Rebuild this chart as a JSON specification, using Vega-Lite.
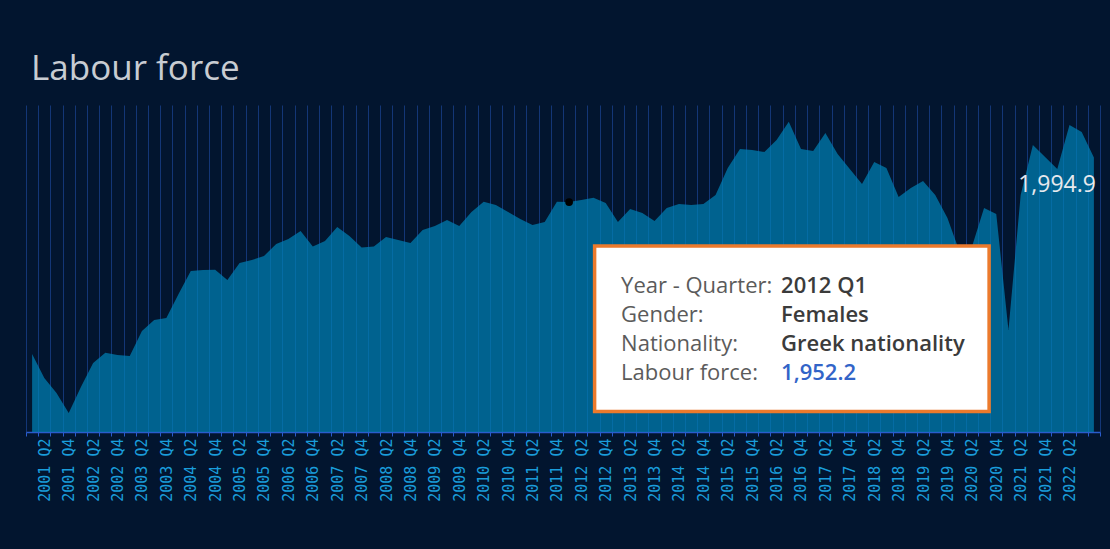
{
  "$schema": "https://vega.github.io/schema/vega-lite/v6.json",
  "width": 1074,
  "height": 327,
  "autosize": {"type": "none"},
  "padding": {"left": 26, "top": 105, "right": 10, "bottom": 117},
  "background": "#02152f",
  "title": {"text": "Labour force", "anchor": "start", "frame": "group", "dx": 5, "offset": 18, "fontSize": 35, "font": "Open Sans", "fontWeight": "normal", "color": "#c8ccd2"},
  "config": {"view": {"stroke": null}},
  "datasets": {
    "lf": [
      {"quarter": "2001 Q1", "value": 1806.3},
      {"quarter": "2001 Q2", "value": 1783.3},
      {"quarter": "2001 Q3", "value": 1768.9},
      {"quarter": "2001 Q4", "value": 1749.7},
      {"quarter": "2002 Q1", "value": 1774.7},
      {"quarter": "2002 Q2", "value": 1797.7},
      {"quarter": "2002 Q3", "value": 1807.6},
      {"quarter": "2002 Q4", "value": 1805.4},
      {"quarter": "2003 Q1", "value": 1804.4},
      {"quarter": "2003 Q2", "value": 1828.4},
      {"quarter": "2003 Q3", "value": 1839.0},
      {"quarter": "2003 Q4", "value": 1840.9},
      {"quarter": "2004 Q1", "value": 1863.9},
      {"quarter": "2004 Q2", "value": 1886.0},
      {"quarter": "2004 Q3", "value": 1886.9},
      {"quarter": "2004 Q4", "value": 1887.2},
      {"quarter": "2005 Q1", "value": 1877.3},
      {"quarter": "2005 Q2", "value": 1893.7},
      {"quarter": "2005 Q3", "value": 1896.5},
      {"quarter": "2005 Q4", "value": 1900.4},
      {"quarter": "2006 Q1", "value": 1911.9},
      {"quarter": "2006 Q2", "value": 1916.7},
      {"quarter": "2006 Q3", "value": 1924.4},
      {"quarter": "2006 Q4", "value": 1909.5},
      {"quarter": "2007 Q1", "value": 1914.8},
      {"quarter": "2007 Q2", "value": 1928.2},
      {"quarter": "2007 Q3", "value": 1919.6},
      {"quarter": "2007 Q4", "value": 1908.5},
      {"quarter": "2008 Q1", "value": 1909.5},
      {"quarter": "2008 Q2", "value": 1918.6},
      {"quarter": "2008 Q3", "value": 1915.7},
      {"quarter": "2008 Q4", "value": 1912.9},
      {"quarter": "2009 Q1", "value": 1925.3},
      {"quarter": "2009 Q2", "value": 1929.2},
      {"quarter": "2009 Q3", "value": 1934.9},
      {"quarter": "2009 Q4", "value": 1929.2},
      {"quarter": "2010 Q1", "value": 1942.6},
      {"quarter": "2010 Q2", "value": 1952.5},
      {"quarter": "2010 Q3", "value": 1949.3},
      {"quarter": "2010 Q4", "value": 1942.6},
      {"quarter": "2011 Q1", "value": 1935.9},
      {"quarter": "2011 Q2", "value": 1930.1},
      {"quarter": "2011 Q3", "value": 1933.0},
      {"quarter": "2011 Q4", "value": 1952.5},
      {"quarter": "2012 Q1", "value": 1952.2},
      {"quarter": "2012 Q2", "value": 1954.1},
      {"quarter": "2012 Q3", "value": 1956.3},
      {"quarter": "2012 Q4", "value": 1951.2},
      {"quarter": "2013 Q1", "value": 1933.0},
      {"quarter": "2013 Q2", "value": 1945.5},
      {"quarter": "2013 Q3", "value": 1941.6},
      {"quarter": "2013 Q4", "value": 1934.0},
      {"quarter": "2014 Q1", "value": 1946.4},
      {"quarter": "2014 Q2", "value": 1950.3},
      {"quarter": "2014 Q3", "value": 1949.3},
      {"quarter": "2014 Q4", "value": 1950.3},
      {"quarter": "2015 Q1", "value": 1958.9},
      {"quarter": "2015 Q2", "value": 1984.8},
      {"quarter": "2015 Q3", "value": 2003.1},
      {"quarter": "2015 Q4", "value": 2002.1},
      {"quarter": "2016 Q1", "value": 2000.2},
      {"quarter": "2016 Q2", "value": 2011.7},
      {"quarter": "2016 Q3", "value": 2029.3},
      {"quarter": "2016 Q4", "value": 2003.1},
      {"quarter": "2017 Q1", "value": 2001.1},
      {"quarter": "2017 Q2", "value": 2018.4},
      {"quarter": "2017 Q3", "value": 1998.3},
      {"quarter": "2017 Q4", "value": 1983.9},
      {"quarter": "2018 Q1", "value": 1969.5},
      {"quarter": "2018 Q2", "value": 1990.6},
      {"quarter": "2018 Q3", "value": 1984.8},
      {"quarter": "2018 Q4", "value": 1957.0},
      {"quarter": "2019 Q1", "value": 1965.6},
      {"quarter": "2019 Q2", "value": 1972.4},
      {"quarter": "2019 Q3", "value": 1958.9},
      {"quarter": "2019 Q4", "value": 1936.8},
      {"quarter": "2020 Q1", "value": 1904.2},
      {"quarter": "2020 Q2", "value": 1909.0},
      {"quarter": "2020 Q3", "value": 1946.4},
      {"quarter": "2020 Q4", "value": 1940.7},
      {"quarter": "2021 Q1", "value": 1829.4},
      {"quarter": "2021 Q2", "value": 1958.9},
      {"quarter": "2021 Q3", "value": 2006.9},
      {"quarter": "2021 Q4", "value": 1995.4},
      {"quarter": "2022 Q1", "value": 1983.9},
      {"quarter": "2022 Q2", "value": 2026.1},
      {"quarter": "2022 Q3", "value": 2019.4},
      {"quarter": "2022 Q4", "value": 1994.9}
    ],
    "hover": [
      {"quarter": "2012 Q1", "gender": "Females", "nationality": "Greek nationality", "value": 1952.2}
    ]
  },
  "data": {"name": "lf"},
  "encoding": {
    "x": {
      "field": "quarter", "type": "ordinal", "bandPosition": 0.5,
      "scale": {"type": "band", "paddingInner": 0, "paddingOuter": 0},
      "axis": {
        "title": null, "tickBand": "extent", "grid": true, "gridColor": "#2c63d8", "gridOpacity": 0.42, "gridWidth": 1,
        "domainColor": "#2a5ccc", "domainWidth": 1.5, "tickColor": "#2a5ccc", "tickSize": 4,
        "labelAngle": 270, "labelAlign": "right", "labelBaseline": "middle", "labelPadding": 2,
        "labelColor": "#1a9ddb", "labelFont": "DejaVu Sans Mono", "labelFontSize": 15, "labelOverlap": false,
        "labelExpr": "(indexof(datum.label, 'Q2') > 0 || indexof(datum.label, 'Q4') > 0) && datum.label !== '2022 Q4' ? datum.label : ''"
      }
    },
    "y": {"field": "value", "type": "quantitative", "scale": {"domain": [1731.5, 2045.3], "nice": false, "zero": false}, "axis": null}
  },
  "layer": [
    {"mark": {"type": "area", "color": "#0083b8", "opacity": 0.7, "clip": true}},
    {
      "transform": [{"filter": "datum.quarter === '2022 Q4'"}],
      "mark": {"type": "text", "align": "right", "baseline": "middle", "dx": 2, "dy": 27, "fontSize": 23, "font": "Open Sans", "color": "#e6e9ee"},
      "encoding": {"text": {"field": "value", "format": ",.1f"}}
    },
    {"data": {"name": "hover"}, "mark": {"type": "point", "filled": true, "color": "#000000", "size": 60, "opacity": 1}},
    {"data": {"name": "hover"}, "mark": {"type": "point", "shape": "M25.5,44H420V209.5H25.5Z", "size": 4, "filled": true, "fill": "#ffffff", "stroke": "#ec7a2c", "strokeWidth": 3.5, "opacity": 1, "fillOpacity": 1}},
    {"data": {"name": "hover"}, "mark": {"type": "text", "text": "Year - Quarter:", "align": "left", "baseline": "alphabetic", "dx": 52, "dy": 90.7, "fontSize": 22, "font": "Open Sans", "color": "#5b5b5b"}},
    {"data": {"name": "hover"}, "mark": {"type": "text", "text": "Gender:", "align": "left", "baseline": "alphabetic", "dx": 52, "dy": 119.7, "fontSize": 22, "font": "Open Sans", "color": "#5b5b5b"}},
    {"data": {"name": "hover"}, "mark": {"type": "text", "text": "Nationality:", "align": "left", "baseline": "alphabetic", "dx": 52, "dy": 148.7, "fontSize": 22, "font": "Open Sans", "color": "#5b5b5b"}},
    {"data": {"name": "hover"}, "mark": {"type": "text", "text": "Labour force:", "align": "left", "baseline": "alphabetic", "dx": 52, "dy": 178, "fontSize": 22, "font": "Open Sans", "color": "#5b5b5b"}},
    {"data": {"name": "hover"}, "mark": {"type": "text", "align": "left", "baseline": "alphabetic", "dx": 212, "dy": 90.7, "fontSize": 22, "font": "Open Sans", "fontWeight": 600, "color": "#3b3b3b"}, "encoding": {"text": {"field": "quarter"}}},
    {"data": {"name": "hover"}, "mark": {"type": "text", "align": "left", "baseline": "alphabetic", "dx": 212, "dy": 119.7, "fontSize": 22, "font": "Open Sans", "fontWeight": 600, "color": "#3b3b3b"}, "encoding": {"text": {"field": "gender"}}},
    {"data": {"name": "hover"}, "mark": {"type": "text", "align": "left", "baseline": "alphabetic", "dx": 212, "dy": 148.7, "fontSize": 22, "font": "Open Sans", "fontWeight": 600, "color": "#3b3b3b"}, "encoding": {"text": {"field": "nationality"}}},
    {"data": {"name": "hover"}, "mark": {"type": "text", "align": "left", "baseline": "alphabetic", "dx": 212, "dy": 178, "fontSize": 22, "font": "Open Sans", "fontWeight": 600, "color": "#3264c8"}, "encoding": {"text": {"field": "value", "format": ",.1f"}}}
  ]
}
